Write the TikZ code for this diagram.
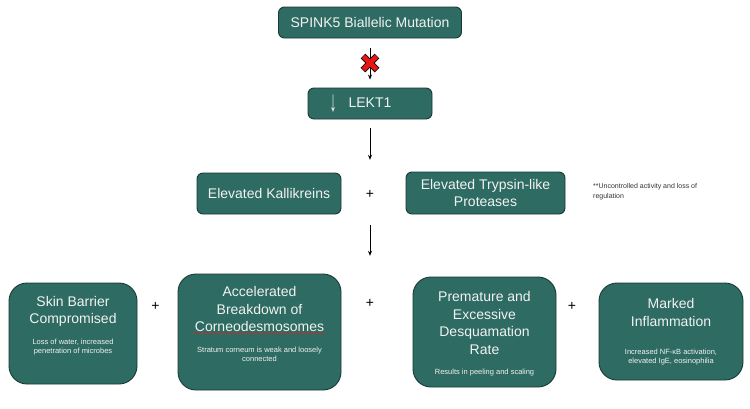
\documentclass[tikz,border=0pt]{standalone}
\usepackage{fontspec}
\setmainfont{Liberation Sans}
\usetikzlibrary{arrows.meta,calc,decorations.pathmorphing}
\definecolor{boxfill}{RGB}{46,107,98}
\definecolor{boxline}{RGB}{24,58,53}
\definecolor{boxtext}{RGB}{242,242,242}
\definecolor{squig}{RGB}{210,40,40}
\definecolor{xred}{RGB}{235,20,20}
\begin{document}
\begin{tikzpicture}[x=1pt,y=-1pt,
 box/.style={draw=boxline, line width=0.9pt, fill=boxfill, rounded corners=6pt, text=boxtext, align=center, inner sep=0pt, font=\fontsize{14}{17.5}\selectfont},
 bigbox/.style={draw=boxline, line width=0.9pt, fill=boxfill, rounded corners=18pt, inner sep=0pt},
 ttl/.style={text=boxtext, align=center, inner sep=0pt, anchor=north, font=\fontsize{14}{17.5}\selectfont},
 sub/.style={text=boxtext, align=center, inner sep=0pt, anchor=north, font=\fontsize{7.5}{9.8}\selectfont},
 plus/.style={inner sep=0pt, minimum size=10pt, font=\fontsize{14}{14}\selectfont},
 arr/.style={line width=0.8pt, -{Stealth[length=5pt,width=4pt]}},
]
\useasboundingbox[fill=white] (0,0) rectangle (750,408);

% top chain
\node[box, minimum width=183pt, minimum height=31pt] (spink) at (370,22.5) {SPINK5 Biallelic Mutation};
\node[box, minimum width=124pt, minimum height=31pt] (lekt) at (370,103.5) {\raisebox{-3.5pt}{\scalebox{1}[2.1]{↓}}\hspace{12pt}LEKT1\hspace{19pt}};

% middle row
\node[box, minimum width=144pt, minimum height=41pt] (kal) at (269,193.5) {Elevated Kallikreins};
\node[box, minimum width=159pt, minimum height=42pt] (tryp) at (485.5,193) {Elevated Trypsin-like\\Proteases};
\node[plus] (p1) at (370,194) {+};
\node[anchor=north west, inner sep=0pt, align=left, font=\fontsize{7}{10}\selectfont, text=black!80] (note) at (593,183) {**Uncontrolled activity and loss of\\regulation};

% bottom row
\node[bigbox, minimum width=128pt, minimum height=101pt] (skin) at (73,333.5) {};
\node[ttl] (skint) at (73,296) {Skin Barrier\\Compromised};
\node[sub] (skins) at (73,338.5) {Loss of water, increased\\penetration of microbes};

\node[bigbox, minimum width=163pt, minimum height=116pt] (acc) at (259.5,332) {};
\node[ttl] (acct) at (259.5,286.5) {Accelerated\\Breakdown of\\Corneodesmosomes};
\node[sub] (accs) at (259.5,346.5) {Stratum corneum is weak and loosely\\connected};

\node[bigbox, minimum width=143pt, minimum height=110pt] (prem) at (484.5,332) {};
\node[ttl] (premt) at (484.5,291.5) {Premature and\\Excessive\\Desquamation\\Rate};
\node[sub] (prems) at (484.5,368.5) {Results in peeling and scaling};

\node[bigbox, minimum width=144pt, minimum height=97pt] (mark) at (671,331.5) {};
\node[ttl] (markt) at (671,298.5) {Marked\\Inflammation};
\node[sub] (marks) at (671,348.5) {Increased NF-κB activation,\\elevated IgE, eosinophilia};

\node[plus] (p2) at (155.5,306) {+};
\node[plus] (p3) at (370,303) {+};
\node[plus] (p4) at (572,306) {+};

% connectors
\draw[arr, shorten <=10pt, shorten >=8pt] (spink.south) -- (lekt.north);
\draw[arr, shorten <=9pt, shorten >=29pt] (lekt.south) -- (p1.north);
\draw[arr, shorten <=26pt, shorten >=42pt] (p1.south) -- (p3.north);

% red cross
\coordinate (xm) at (370,63);
\draw[line width=6.6pt, black] ($(xm)+(-7,-7)$) -- ($(xm)+(7,7)$) ($(xm)+(7,-7)$) -- ($(xm)+(-7,7)$);
\draw[line width=4.8pt, xred] ($(xm)+(-6.6,-6.6)$) -- ($(xm)+(6.6,6.6)$) ($(xm)+(6.6,-6.6)$) -- ($(xm)+(-6.6,6.6)$);

% spell-check squiggle
\coordinate (sqa) at (193,333.5);
\coordinate (sqb) at (325,333.5);
\draw[squig, line width=0.5pt, decorate, decoration={snake, amplitude=0.6pt, segment length=2.5pt}] (sqa) -- (sqb);
\end{tikzpicture}
\end{document}
